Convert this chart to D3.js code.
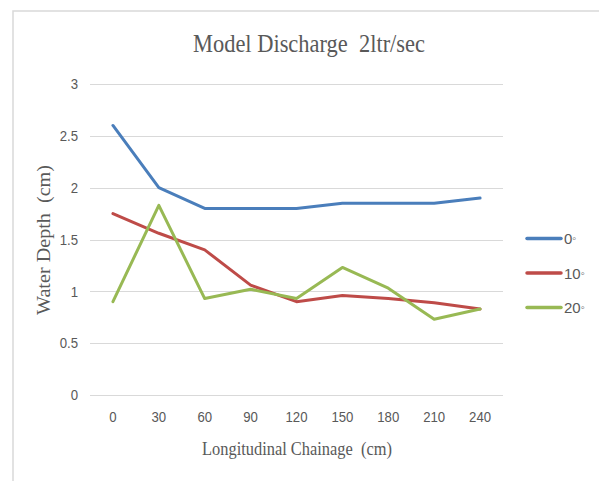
<!DOCTYPE html>
<html>
<head>
<meta charset="utf-8">
<script src="https://cdn.jsdelivr.net/npm/d3@7"></script>
<style>
  html, body { margin: 0; padding: 0; background: #fff; }
  svg { display: block; }
</style>
</head>
<body>
<svg id="chart" width="599" height="481"></svg>
<script>
// Chainage positions along the channel (cm)
const chainage = ["0", "30", "60", "90", "120", "150", "180", "210", "240"];

// Water depth (cm) for each bed slope angle
const depth0 = [2.6, 2.0, 1.8, 1.8, 1.8, 1.85, 1.85, 1.85, 1.9];
const depth10 = [1.75, 1.56, 1.4, 1.06, 0.9, 0.96, 0.93, 0.89, 0.83];
const depth20 = [0.9, 1.83, 0.93, 1.02, 0.93, 1.23, 1.03, 0.73, 0.83];

const seriesNames = ["0", "10", "20"];
const seriesColors = ["#4a7ebb", "#be4b48", "#98b954"];
const yTicks = [0, 0.5, 1, 1.5, 2, 2.5, 3];

const series = [depth0, depth10, depth20];

const svg = d3.select("#chart");
const sans = "'Liberation Sans Narrow', 'Liberation Sans', Arial, sans-serif";
const serif = "'Liberation Serif', 'Times New Roman', serif";
const tickGrey = "#595959";

// Chart frame (top and left edges)
svg.append("path")
  .attr("d", "M13,481 L13,11 L599,11")
  .attr("fill", "none")
  .attr("stroke", "#d9d9d9")
  .attr("stroke-width", 1.5);

const x = d3.scaleBand().domain(chainage).range([90, 503]);
const y = d3.scaleLinear().domain([0, 3]).range([395, 84]);
const cx = d => x(d) + x.bandwidth() / 2;

// Horizontal gridlines
svg.append("g")
  .selectAll("line")
  .data(yTicks)
  .join("line")
  .attr("x1", 90).attr("x2", 503)
  .attr("y1", d => Math.round(y(d)) + 0.5)
  .attr("y2", d => Math.round(y(d)) + 0.5)
  .attr("stroke", "#d9d9d9")
  .attr("stroke-width", 1);

// Narrow-looking numeric labels: shrink glyphs horizontally
function styleTicks(g) {
  g.selectAll("text")
    .attr("font-family", sans)
    .attr("font-size", 15)
    .attr("fill", tickGrey);
}

// Y axis labels
const yAxis = d3.axisLeft(y).tickValues(yTicks).tickSize(0).tickPadding(0)
  .tickFormat(d => String(d));
svg.append("g")
  .attr("transform", "translate(78,0)")
  .call(yAxis)
  .call(g => g.select(".domain").remove())
  .call(styleTicks)
  .call(g => g.selectAll("text").attr("transform", "scale(0.88,1)")
    .attr("x", 0));

// X axis labels
const xAxis = d3.axisBottom(x).tickSize(0).tickPadding(0);
svg.append("g")
  .attr("transform", "translate(0,411)")
  .call(xAxis)
  .call(g => g.select(".domain").remove())
  .call(styleTicks)
  .call(g => g.selectAll("text").attr("transform", "scale(0.88,1)"));

// Series lines
const line = d3.line()
  .x((d, i) => cx(chainage[i]))
  .y(d => y(d));

svg.append("g")
  .selectAll("path")
  .data(series)
  .join("path")
  .attr("d", d => line(d))
  .attr("fill", "none")
  .attr("stroke", (d, i) => seriesColors[i])
  .attr("stroke-width", 3)
  .attr("stroke-linejoin", "round")
  .attr("stroke-linecap", "round");

// Title
svg.append("text")
  .attr("x", 309).attr("y", 52)
  .attr("text-anchor", "middle")
  .attr("font-family", serif)
  .attr("font-size", 25)
  .attr("textLength", 232)
  .attr("lengthAdjust", "spacingAndGlyphs")
  .attr("fill", "#595959")
  .text("Model Discharge\u00a0 2ltr/sec");

// Axis titles
svg.append("text")
  .attr("x", 297).attr("y", 455)
  .attr("text-anchor", "middle")
  .attr("font-family", serif)
  .attr("font-size", 19)
  .attr("textLength", 190)
  .attr("lengthAdjust", "spacingAndGlyphs")
  .attr("fill", "#595959")
  .text("Longitudinal Chainage\u00a0 (cm)");

svg.append("text")
  .attr("transform", "translate(50,240) rotate(-90)")
  .attr("text-anchor", "middle")
  .attr("font-family", serif)
  .attr("font-size", 19)
  .attr("textLength", 150)
  .attr("lengthAdjust", "spacingAndGlyphs")
  .attr("fill", "#595959")
  .text("Water Depth\u00a0 (cm)");

// Legend
const legend = svg.append("g")
  .selectAll("g")
  .data(seriesNames)
  .join("g")
  .attr("transform", (d, i) => `translate(527,${238.5 + i * 34.5})`);

legend.append("line")
  .attr("x1", 0).attr("x2", 34)
  .attr("stroke", (d, i) => seriesColors[i])
  .attr("stroke-width", 3.5)
  .attr("stroke-linecap", "round");

const lt = legend.append("text")
  .attr("x", 37).attr("y", 5.5)
  .attr("font-family", sans)
  .attr("font-size", 15)
  .attr("fill", tickGrey);
lt.append("tspan").text(d => d);
lt.append("tspan").attr("font-size", 11).attr("dy", -2).text("\u25e6");
</script>
</body>
</html>
